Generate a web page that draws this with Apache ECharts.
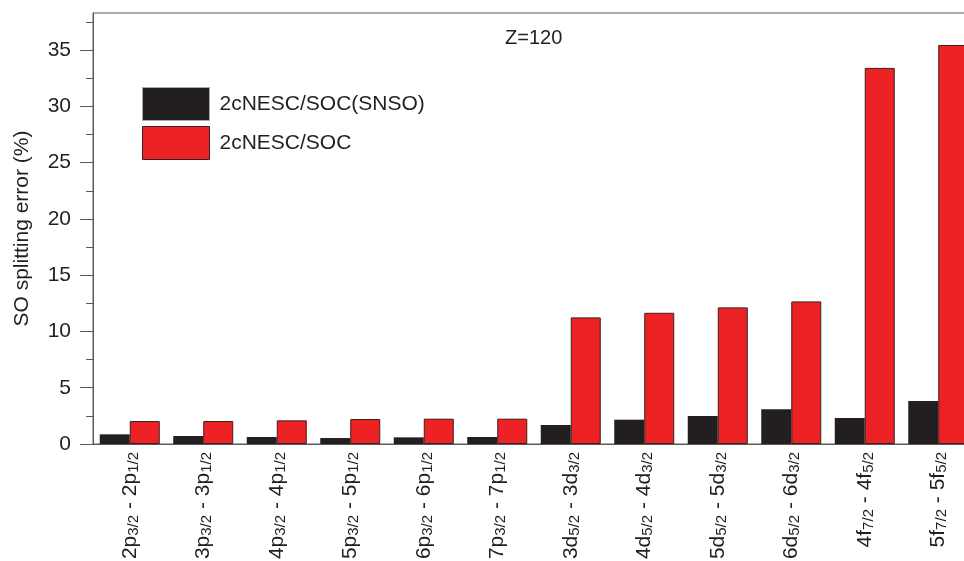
<!DOCTYPE html>
<html>
<head>
<meta charset="utf-8">
<script src="https://cdn.jsdelivr.net/npm/echarts@6/dist/echarts.min.js"></script>
<style>
  html, body { margin: 0; padding: 0; background: #fff; }
  #chart { width: 964px; height: 561px; }
</style>
</head>
<body>
<div id="chart"></div>
<script>
// Spin-orbit splitting transitions: upper level, its j, lower level, its j
const upperShell = ['2p', '3p', '4p', '5p', '6p', '7p', '3d', '4d', '5d', '6d', '4f', '5f'];
const upperJ     = ['3/2', '3/2', '3/2', '3/2', '3/2', '3/2', '5/2', '5/2', '5/2', '5/2', '7/2', '7/2'];
const lowerShell = ['2p', '3p', '4p', '5p', '6p', '7p', '3d', '4d', '5d', '6d', '4f', '5f'];
const lowerJ     = ['1/2', '1/2', '1/2', '1/2', '1/2', '1/2', '3/2', '3/2', '3/2', '3/2', '5/2', '5/2'];

// SO splitting error (%)
const snsoErrors = [0.86, 0.71, 0.62, 0.53, 0.59, 0.62, 1.69, 2.16, 2.49, 3.08, 2.31, 3.82];
const socErrors  = [2.04, 2.04, 2.10, 2.22, 2.25, 2.25, 11.25, 11.66, 12.14, 12.67, 33.42, 35.46];

const seriesNames = ['2cNESC/SOC(SNSO)', '2cNESC/SOC'];
const majorTicks = [0, 5, 10, 15, 20, 25, 30, 35];
const minorTicks = [2.5, 7.5, 12.5, 17.5, 22.5, 27.5, 32.5, 37.5];
const yMax = 38.3;

const categories = upperShell.map((s, i) =>
  s + '{s|' + upperJ[i] + '} - ' + lowerShell[i] + '{s|' + lowerJ[i] + '}');

const FONT = '"Liberation Sans", Arial, sans-serif';
const INK = '#231f20';
const AXIS = '#58595b';

const chart = echarts.init(document.getElementById('chart'), null, { renderer: 'canvas' });

chart.setOption({
  animation: false,
  backgroundColor: '#ffffff',
  textStyle: { fontFamily: FONT, color: INK },
  grid: {
    left: 93, top: 13, width: 882, height: 431,
    containLabel: false,
    outerBoundsMode: 'none',
    show: true, borderColor: AXIS, borderWidth: 1, backgroundColor: 'transparent'
  },
  legend: {
    orient: 'vertical',
    left: 142, top: 87,
    padding: 0,
    itemWidth: 67, itemHeight: 33, itemGap: 5,
    icon: 'rect',
    textStyle: { fontFamily: FONT, fontSize: 21, color: INK, padding: [0, 0, 0, 5] },
    data: [
      { name: seriesNames[0], itemStyle: { color: INK, borderColor: '#a7a9ac', borderWidth: 1 } },
      { name: seriesNames[1], itemStyle: { color: '#ed2224', borderColor: '#3b1f1f', borderWidth: 1 } }
    ]
  },
  graphic: [{
    type: 'text',
    left: 505, top: 28,
    style: { text: 'Z=120', fontFamily: FONT, fontSize: 20, fill: INK }
  }],
  xAxis: {
    type: 'category',
    data: categories,
    axisLine: { show: true, lineStyle: { color: AXIS, width: 1 } },
    axisTick: { show: false },
    splitLine: { show: false },
    axisLabel: {
      interval: 0,
      rotate: 90,
      margin: 8,
      fontFamily: FONT,
      fontSize: 21,
      lineHeight: 23,
      color: INK,
      rich: {
        s: { fontFamily: FONT, fontSize: 15, lineHeight: 15, verticalAlign: 'bottom', padding: [6, 0, 0, 0], color: INK }
      }
    }
  },
  yAxis: [{
    type: 'value',
    min: 0, max: yMax,
    position: 'left',
    name: 'SO splitting error (%)',
    nameLocation: 'middle',
    nameGap: 60,
    nameTextStyle: { fontFamily: FONT, fontSize: 21, color: INK },
    axisLine: { show: true, lineStyle: { color: AXIS, width: 1 } },
    axisTick: { show: true, inside: false, length: 13, lineStyle: { color: AXIS }, customValues: majorTicks },
    axisLabel: { margin: 22, fontFamily: FONT, fontSize: 21, color: INK, customValues: majorTicks },
    splitLine: { show: false }
  }, {
    type: 'value',
    min: 0, max: yMax,
    position: 'left',
    axisLine: { show: false },
    axisTick: { show: true, inside: false, length: 7, lineStyle: { color: AXIS }, customValues: minorTicks },
    axisLabel: { show: false },
    splitLine: { show: false }
  }],
  series: [{
    name: seriesNames[0],
    type: 'bar',
    data: snsoErrors,
    barWidth: 30,
    barGap: '0%',
    itemStyle: { color: INK }
  }, {
    name: seriesNames[1],
    type: 'bar',
    data: socErrors,
    barWidth: 30,
    barGap: '0%',
    itemStyle: { color: '#ed2224', borderColor: '#3b1f1f', borderWidth: 1 }
  }]
});
</script>
</body>
</html>
